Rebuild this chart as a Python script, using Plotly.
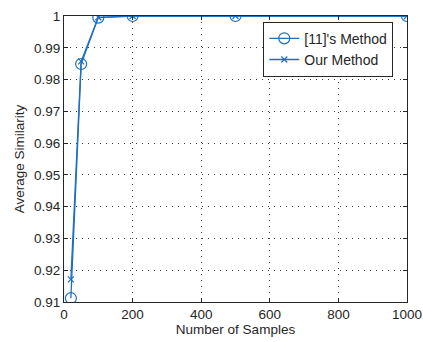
import plotly.graph_objects as go

samples = [20, 50, 100, 200, 500, 1000]
ref_method = [0.9112, 0.9849, 0.9995, 1.0, 1.0, 1.0]
our_method = [0.9171, 0.9857, 0.9996, 1.0, 1.0, 1.0]
x_ticks = [0, 200, 400, 600, 800, 1000]
y_ticks = [0.91, 0.92, 0.93, 0.94, 0.95, 0.96, 0.97, 0.98, 0.99, 1.0]
y_labels = ["0.91", "0.92", "0.93", "0.94", "0.95", "0.96", "0.97", "0.98", "0.99", "1"]

color = "#1f6fc0"
fig = go.Figure()
fig.add_trace(go.Scatter(x=samples, y=ref_method, name="[11]'s Method", mode="lines+markers",
                         line=dict(color=color, width=1.3),
                         marker=dict(symbol="circle-open", size=11, color=color, line=dict(width=1.2))))
fig.add_trace(go.Scatter(x=samples, y=our_method, name="Our Method", mode="lines+markers",
                         line=dict(color=color, width=1.3),
                         marker=dict(symbol="x-thin-open", size=6, color=color, line=dict(width=1.2))))

axis_common = dict(showline=True, linecolor="#262626", linewidth=1, mirror="ticks",
                   ticks="inside", ticklen=4, tickcolor="#262626", automargin=False,
                   showgrid=True, gridcolor="#404040", griddash="1px,5px", gridwidth=1,
                   zeroline=False, tickfont=dict(size=13.5, color="#262626"))
fig.update_xaxes(range=[0, 1000], tickvals=x_ticks,
                 title=dict(text="Number of Samples", font=dict(size=13.5, color="#262626"), standoff=3),
                 **axis_common)
fig.update_yaxes(range=[0.91, 1.0], tickvals=y_ticks, ticktext=y_labels,
                 title=dict(text="Average Similarity", font=dict(size=13.5, color="#262626"), standoff=6),
                 **axis_common)
fig.update_layout(width=423, height=342, margin=dict(l=64, r=16, t=16, b=40),
                  paper_bgcolor="white", plot_bgcolor="white",
                  font=dict(family="Liberation Sans, Arial, sans-serif", color="#262626"),
                  legend=dict(x=0.96, y=0.98, xanchor="right", yanchor="top",
                              bgcolor="white", bordercolor="#262626", borderwidth=1,
                              font=dict(size=14, color="#262626"), tracegroupgap=0),
                  showlegend=True)
fig.write_html("out.html")
